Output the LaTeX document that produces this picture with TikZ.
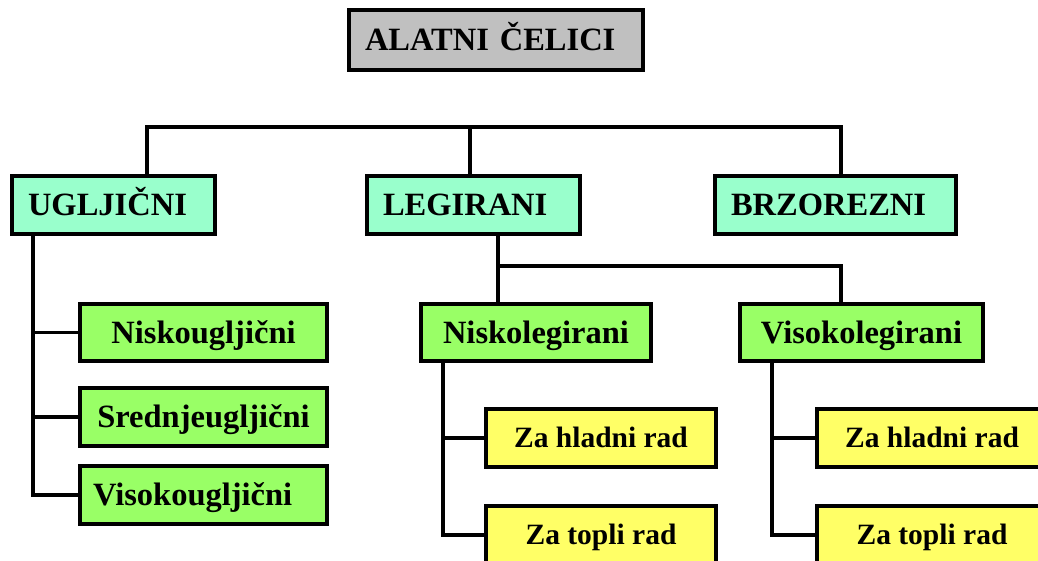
\documentclass[tikz,border=0pt]{standalone}
\usepackage{fontspec}
\setmainfont{Liberation Serif}
\definecolor{sivo}{HTML}{C0C0C0}
\definecolor{menta}{HTML}{99FFCC}
\definecolor{zeleno}{HTML}{99FF66}
\definecolor{zuto}{HTML}{FFFF66}
\begin{document}
\begin{tikzpicture}[x=1pt,y=-1pt,
    box/.style={draw,line width=3.2pt,text height=29.2pt,text depth=7.7pt,font=\fontsize{32.5}{39}\selectfont\bfseries},
    glavni/.style={box,fill=sivo,align=left,inner xsep=16pt,minimum height=60pt},
    vrsta/.style={box,fill=menta,align=left,inner xsep=16pt,minimum height=58pt},
    grupa/.style={box,fill=zeleno,minimum height=57pt},
    primjena/.style={box,fill=zuto,minimum width=230pt,minimum height=58pt,text height=26.5pt,text depth=7pt,font=\fontsize{29.5}{35}\selectfont\bfseries},
    veza/.style={line width=3.2pt}]
    \path[use as bounding box,clip] (0,0) rectangle (1038,561);

    \node[glavni,text width=262pt] (AC) at (496,40) {ALATNI ČELICI};

    \node[vrsta,text width=171pt] (UG) at (113.5,205) {UGLJIČNI};
    \node[vrsta,text width=181pt] (LE) at (473.5,205) {LEGIRANI};
    \node[vrsta,text width=209pt] (BR) at (835.5,205) {BRZOREZNI};

    \node[grupa,minimum width=247pt] (UGn) at (203.5,332.5) {Niskougljični};
    \node[grupa,minimum width=247pt,minimum height=58pt] (UGs) at (203.5,417) {Srednjeugljični};
    \node[grupa,align=left,inner xsep=13pt,text width=221pt,minimum height=58pt] (UGv) at (203.5,495) {Visokougljični};

    \node[grupa,minimum width=230pt] (LEn) at (536,332.5) {Niskolegirani};
    \node[grupa,minimum width=243pt] (LEv) at (861.5,332.5) {Visokolegirani};

    \node[primjena] (LEnh) at (601,438) {Za hladni rad};
    \node[primjena] (LEnt) at (601,535) {Za topli rad};
    \node[primjena] (LEvh) at (932,438) {Za hladni rad};
    \node[primjena] (LEvt) at (932,535) {Za topli rad};

    % gornja sabirnica
    \coordinate (barL) at (147,127);
    \coordinate (barR) at (841,127);
    \draw[veza] (UG.north -| barL) -- (barL) -- (barR) -- (BR.north -| barR);
    \draw[veza] (LE.north -| 470,0) -- (barL -| 470,0);

    % ugljicni
    \coordinate (ugS) at (33,0);
    \draw[veza] (UG.south -| ugS) |- (UGv.west);
    \draw[veza] (UGn.west) -- (UGn.west -| ugS);
    \draw[veza] (UGs.west) -- (UGs.west -| ugS);

    % legirani
    \coordinate (leJ) at (498,266);
    \coordinate (viJ) at (841,266);
    \draw[veza] (LE.south -| leJ) -- (LEn.north -| leJ);
    \draw[veza] (leJ) -- (viJ) -- (LEv.north -| viJ);

    \coordinate (nS) at (443,0);
    \coordinate (vS) at (772,0);
    \draw[veza] (LEn.south -| nS) |- (LEnt.west);
    \draw[veza] (LEnh.west) -- (LEnh.west -| nS);
    \draw[veza] (LEv.south -| vS) |- (LEvt.west);
    \draw[veza] (LEvh.west) -- (LEvh.west -| vS);
\end{tikzpicture}
\end{document}
